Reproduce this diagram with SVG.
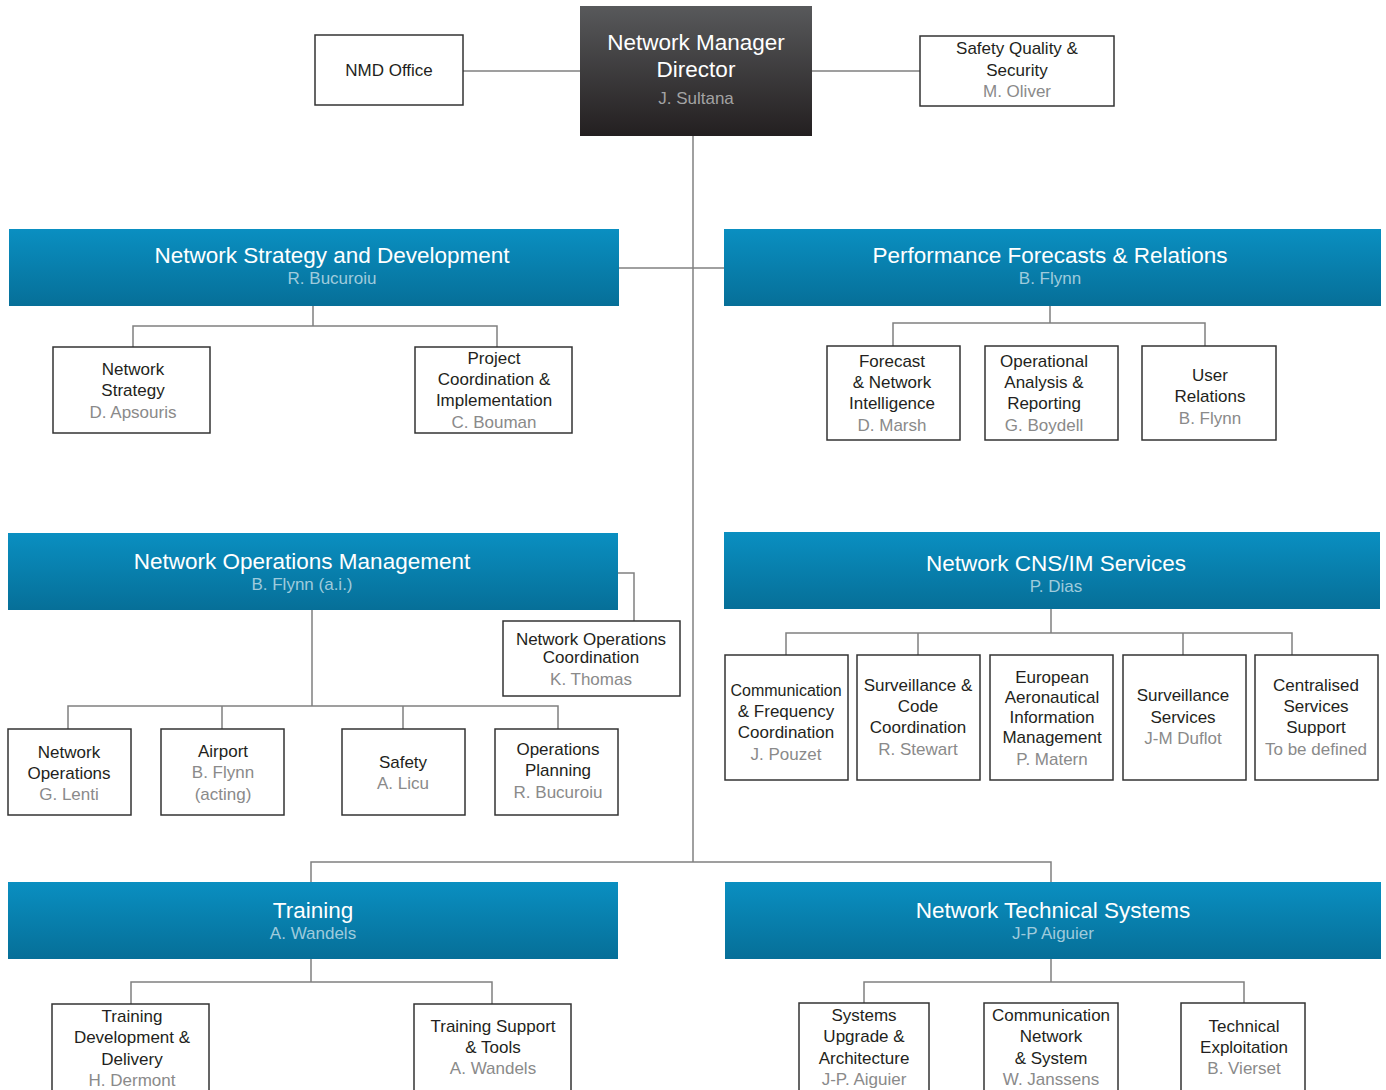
<svg xmlns="http://www.w3.org/2000/svg" width="1386" height="1090" viewBox="0 0 1386 1090">
<defs>
<linearGradient id="dark" x1="0" y1="0" x2="0" y2="1"><stop offset="0" stop-color="#58595b"/><stop offset="1" stop-color="#231f20"/></linearGradient>
<linearGradient id="blue" x1="0" y1="0" x2="0" y2="1"><stop offset="0" stop-color="#0a8fc1"/><stop offset="1" stop-color="#066f98"/></linearGradient>
<style>
text{font-family:"Liberation Sans",Arial,sans-serif;text-anchor:middle}
.box{fill:#fff;stroke:#333;stroke-width:1.5}
.hdr{fill:url(#blue)}
.t{font-size:17px;fill:#231f20}
.n{font-size:17px;fill:#8a8a8a}
.ht{font-size:22.5px;fill:#fff}
.hn{font-size:17px;fill:#9fcbdc}
.conn{fill:none;stroke:#808080;stroke-width:1.5}
</style>
</defs>
<g id="connectors" class="conn">
<path d="M463 71H580M812 71H920"/>
<path d="M693 136V862"/>
<path d="M619 268H724"/>
<path d="M313 306V326M133 347V326H497V347"/>
<path d="M1050 306V323M893 346V323H1205V346"/>
<path d="M618 573H634V621"/>
<path d="M312 610V706M68 729V706H558V729M222 706V729M403 706V729"/>
<path d="M1051 609V633M786 655V633H1292V655M918 633V655M1183 633V655"/>
<path d="M311 882V862H1051V882"/>
<path d="M311 959V982M131 1004V982H492V1004"/>
<path d="M1051 959V982M864 1003V982H1244V1003"/>
</g>
<g id="director"><rect x="580" y="6" width="232" height="130" fill="url(#dark)"/><text x="696" y="50" class="ht">Network Manager</text><text x="696" y="77" class="ht">Director</text><text x="696" y="104" class="n" style="fill:#a3a3a3">J. Sultana</text></g>
<g id="nmd-office"><rect x="315" y="35" width="148" height="70" class="box"/><text x="389" y="76" class="t">NMD Office</text></g>
<g id="sqs"><rect x="920" y="36" width="194" height="70" class="box"/><text x="1017" y="54" class="t">Safety Quality &amp;</text><text x="1017" y="76" class="t">Security</text><text x="1017" y="97" class="n">M. Oliver</text></g>

<g id="nsd"><rect x="9" y="229" width="610" height="77" class="hdr"/><text x="332" y="263" class="ht">Network Strategy and Development</text><text x="332" y="284" class="hn">R. Bucuroiu</text></g>
<g id="pfr"><rect x="724" y="229" width="657" height="77" class="hdr"/><text x="1050" y="263" class="ht">Performance Forecasts &amp; Relations</text><text x="1050" y="284" class="hn">B. Flynn</text></g>

<g id="network-strategy"><rect x="53" y="347" width="157" height="86" class="box"/><text x="133" y="375" class="t">Network</text><text x="133" y="396" class="t">Strategy</text><text x="133" y="418" class="n">D. Apsouris</text></g>
<g id="project-coord"><rect x="415" y="347" width="157" height="86" class="box"/><text x="494" y="364" class="t">Project</text><text x="494" y="385" class="t">Coordination &amp;</text><text x="494" y="406" class="t">Implementation</text><text x="494" y="428" class="n">C. Bouman</text></g>

<g id="forecast"><rect x="827" y="346" width="133" height="94" class="box"/><text x="892" y="367" class="t">Forecast</text><text x="892" y="388" class="t">&amp; Network</text><text x="892" y="409" class="t">Intelligence</text><text x="892" y="431" class="n">D. Marsh</text></g>
<g id="operational"><rect x="985" y="346" width="133" height="94" class="box"/><text x="1044" y="367" class="t">Operational</text><text x="1044" y="388" class="t">Analysis &amp;</text><text x="1044" y="409" class="t">Reporting</text><text x="1044" y="431" class="n">G. Boydell</text></g>
<g id="user-relations"><rect x="1142" y="346" width="134" height="94" class="box"/><text x="1210" y="381" class="t">User</text><text x="1210" y="402" class="t">Relations</text><text x="1210" y="424" class="n">B. Flynn</text></g>

<g id="nom"><rect x="8" y="533" width="610" height="77" class="hdr"/><text x="302" y="569" class="ht">Network Operations Management</text><text x="302" y="590" class="hn">B. Flynn (a.i.)</text></g>
<g id="noc"><rect x="503" y="621" width="177" height="75" class="box"/><text x="591" y="645" class="t">Network Operations</text><text x="591" y="663" class="t">Coordination</text><text x="591" y="685" class="n">K. Thomas</text></g>
<g id="network-operations"><rect x="8" y="729" width="123" height="86" class="box"/><text x="69" y="758" class="t">Network</text><text x="69" y="779" class="t">Operations</text><text x="69" y="800" class="n">G. Lenti</text></g>
<g id="airport"><rect x="161" y="729" width="123" height="86" class="box"/><text x="223" y="757" class="t">Airport</text><text x="223" y="778" class="n">B. Flynn</text><text x="223" y="800" class="n">(acting)</text></g>
<g id="safety"><rect x="342" y="729" width="123" height="86" class="box"/><text x="403" y="768" class="t">Safety</text><text x="403" y="789" class="n">A. Licu</text></g>
<g id="ops-planning"><rect x="495" y="729" width="123" height="86" class="box"/><text x="558" y="755" class="t">Operations</text><text x="558" y="776" class="t">Planning</text><text x="558" y="798" class="n">R. Bucuroiu</text></g>

<g id="cns"><rect x="724" y="532" width="656" height="77" class="hdr"/><text x="1056" y="571" class="ht">Network CNS/IM Services</text><text x="1056" y="592" class="hn">P. Dias</text></g>
<g id="comm-freq"><rect x="725" y="655" width="123" height="125" class="box"/><text x="786" y="696" class="t" style="font-size:16px">Communication</text><text x="786" y="717" class="t">&amp; Frequency</text><text x="786" y="738" class="t">Coordination</text><text x="786" y="760" class="n">J. Pouzet</text></g>
<g id="surv-code"><rect x="857" y="655" width="123" height="125" class="box"/><text x="918" y="691" class="t">Surveillance &amp;</text><text x="918" y="712" class="t">Code</text><text x="918" y="733" class="t">Coordination</text><text x="918" y="755" class="n">R. Stewart</text></g>
<g id="eaim"><rect x="990" y="655" width="123" height="125" class="box"/><text x="1052" y="683" class="t">European</text><text x="1052" y="703" class="t">Aeronautical</text><text x="1052" y="723" class="t">Information</text><text x="1052" y="743" class="t">Management</text><text x="1052" y="765" class="n">P. Matern</text></g>
<g id="surv-services"><rect x="1123" y="655" width="123" height="125" class="box"/><text x="1183" y="701" class="t">Surveillance</text><text x="1183" y="723" class="t">Services</text><text x="1183" y="744" class="n">J-M Duflot</text></g>
<g id="centralised"><rect x="1255" y="655" width="123" height="125" class="box"/><text x="1316" y="691" class="t">Centralised</text><text x="1316" y="712" class="t">Services</text><text x="1316" y="733" class="t">Support</text><text x="1316" y="755" class="n">To be defined</text></g>

<g id="training"><rect x="8" y="882" width="610" height="77" class="hdr"/><text x="313" y="918" class="ht">Training</text><text x="313" y="939" class="hn">A. Wandels</text></g>
<g id="nts"><rect x="725" y="882" width="656" height="77" class="hdr"/><text x="1053" y="918" class="ht">Network Technical Systems</text><text x="1053" y="939" class="hn">J-P Aiguier</text></g>
<g id="tdd"><rect x="52" y="1004" width="157" height="90" class="box"/><text x="132" y="1022" class="t">Training</text><text x="132" y="1043" class="t">Development &amp;</text><text x="132" y="1065" class="t">Delivery</text><text x="132" y="1086" class="n">H. Dermont</text></g>
<g id="tst"><rect x="414" y="1004" width="157" height="90" class="box"/><text x="493" y="1032" class="t">Training Support</text><text x="493" y="1053" class="t">&amp; Tools</text><text x="493" y="1074" class="n">A. Wandels</text></g>
<g id="sua"><rect x="799" y="1003" width="130" height="91" class="box"/><text x="864" y="1021" class="t">Systems</text><text x="864" y="1042" class="t">Upgrade &amp;</text><text x="864" y="1064" class="t">Architecture</text><text x="864" y="1085" class="n">J-P. Aiguier</text></g>
<g id="cnsys"><rect x="984" y="1003" width="134" height="91" class="box"/><text x="1051" y="1021" class="t">Communication</text><text x="1051" y="1042" class="t">Network</text><text x="1051" y="1064" class="t">&amp; System</text><text x="1051" y="1085" class="n">W. Janssens</text></g>
<g id="tech-exp"><rect x="1181" y="1003" width="124" height="91" class="box"/><text x="1244" y="1032" class="t">Technical</text><text x="1244" y="1053" class="t">Exploitation</text><text x="1244" y="1074" class="n">B. Vierset</text></g>
</svg>
